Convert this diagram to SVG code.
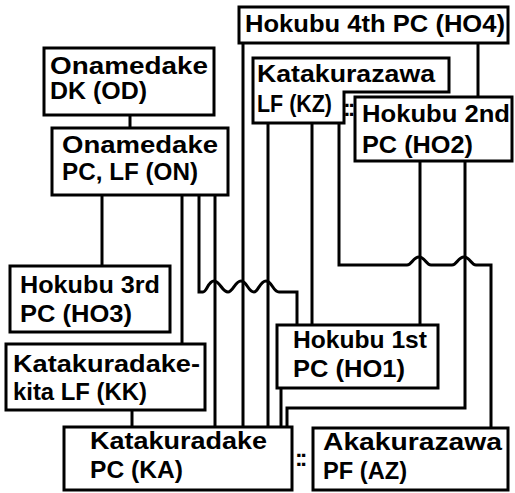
<svg xmlns="http://www.w3.org/2000/svg" width="515" height="493" viewBox="0 0 515 493">
<style>
.box{fill:#fff;stroke:#000;stroke-width:3}
.ln{fill:none;stroke:#000;stroke-width:3;stroke-linejoin:miter}
text{font-family:"Liberation Sans",Arial,sans-serif;font-weight:bold;font-size:24px;fill:#000}
.sep{font-size:23px;letter-spacing:-3px}
</style>
<rect width="515" height="493" fill="#fff"/>
<g id="connectors">
<path class="ln" d="M130,115V128"/>
<path class="ln" d="M102,195V266"/>
<path class="ln" d="M182,195V344"/>
<path class="ln" d="M215,195V427"/>
<path class="ln" d="M199,195V292H203C207,292 208,281 214,281C220,281 222,292 228,292C233,292 235,281 241,281C247,281 248,292 254,292C258,292 260,281 266,281C272,281 273,292 279,292H297V325"/>
<path class="ln" d="M243,43V427"/>
<path class="ln" d="M268,123V427"/>
<path class="ln" d="M312,123V325"/>
<path class="ln" d="M339,123V265H407C412,265 413,257 419,257C425,257 426,265 431,265H452C457,265 458,257 464,257C470,257 471,265 476,265H491V428"/>
<path class="ln" d="M478,43V97"/>
<path class="ln" d="M420,161V325"/>
<path class="ln" d="M465,161V408H287V427"/>
<path class="ln" d="M281,388V427"/>
<path class="ln" d="M132,410V427"/>
</g>
<g id="HO4"><rect class="box" x="239" y="7" width="269" height="36"/><text x="245" y="32" textLength="260" lengthAdjust="spacingAndGlyphs">Hokubu 4th PC (HO4)</text></g>
<g id="OD"><rect class="box" x="44" y="48" width="170" height="67"/><text x="50" y="74" textLength="158" lengthAdjust="spacingAndGlyphs">Onamedake</text><text x="50" y="99" textLength="97" lengthAdjust="spacingAndGlyphs">DK (OD)</text></g>
<g id="ON"><rect class="box" x="52" y="128" width="176" height="67"/><text x="62" y="153" textLength="156" lengthAdjust="spacingAndGlyphs">Onamedake</text><text x="62" y="180" textLength="136" lengthAdjust="spacingAndGlyphs">PC, LF (ON)</text></g>
<g id="KZ"><path class="box" d="M253,58H449V92H344V123H253Z"/><text x="257" y="82" textLength="178" lengthAdjust="spacingAndGlyphs">Katakurazawa</text><text x="257" y="112" textLength="75" lengthAdjust="spacingAndGlyphs">LF (KZ)</text></g>
<g id="HO2"><rect class="box" x="355" y="97" width="157" height="64"/><text x="362" y="122" textLength="148" lengthAdjust="spacingAndGlyphs">Hokubu 2nd</text><text x="362" y="153" textLength="111" lengthAdjust="spacingAndGlyphs">PC (HO2)</text></g>
<text class="sep" x="343" y="116">::</text>
<g id="HO3"><rect class="box" x="10" y="266" width="160" height="66"/><text x="20" y="293" textLength="140" lengthAdjust="spacingAndGlyphs">Hokubu 3rd</text><text x="20" y="322" textLength="112" lengthAdjust="spacingAndGlyphs">PC (HO3)</text></g>
<g id="HO1"><rect class="box" x="277" y="325" width="161" height="63"/><text x="293" y="348" textLength="134" lengthAdjust="spacingAndGlyphs">Hokubu 1st</text><text x="293" y="377" textLength="112" lengthAdjust="spacingAndGlyphs">PC (HO1)</text></g>
<g id="KK"><rect class="box" x="6" y="344" width="199" height="66"/><text x="13" y="372" textLength="187" lengthAdjust="spacingAndGlyphs">Katakuradake-</text><text x="13" y="400" textLength="134" lengthAdjust="spacingAndGlyphs">kita LF (KK)</text></g>
<g id="KA"><rect class="box" x="64" y="427" width="228" height="63"/><text x="90" y="449" textLength="177" lengthAdjust="spacingAndGlyphs">Katakuradake</text><text x="90" y="478" textLength="93" lengthAdjust="spacingAndGlyphs">PC (KA)</text></g>
<g id="AZ"><rect class="box" x="313" y="428" width="195" height="62"/><text x="323" y="450" textLength="179" lengthAdjust="spacingAndGlyphs">Akakurazawa</text><text x="323" y="479" textLength="84" lengthAdjust="spacingAndGlyphs">PF (AZ)</text></g>
<text class="sep" x="295" y="466">::</text>
</svg>
